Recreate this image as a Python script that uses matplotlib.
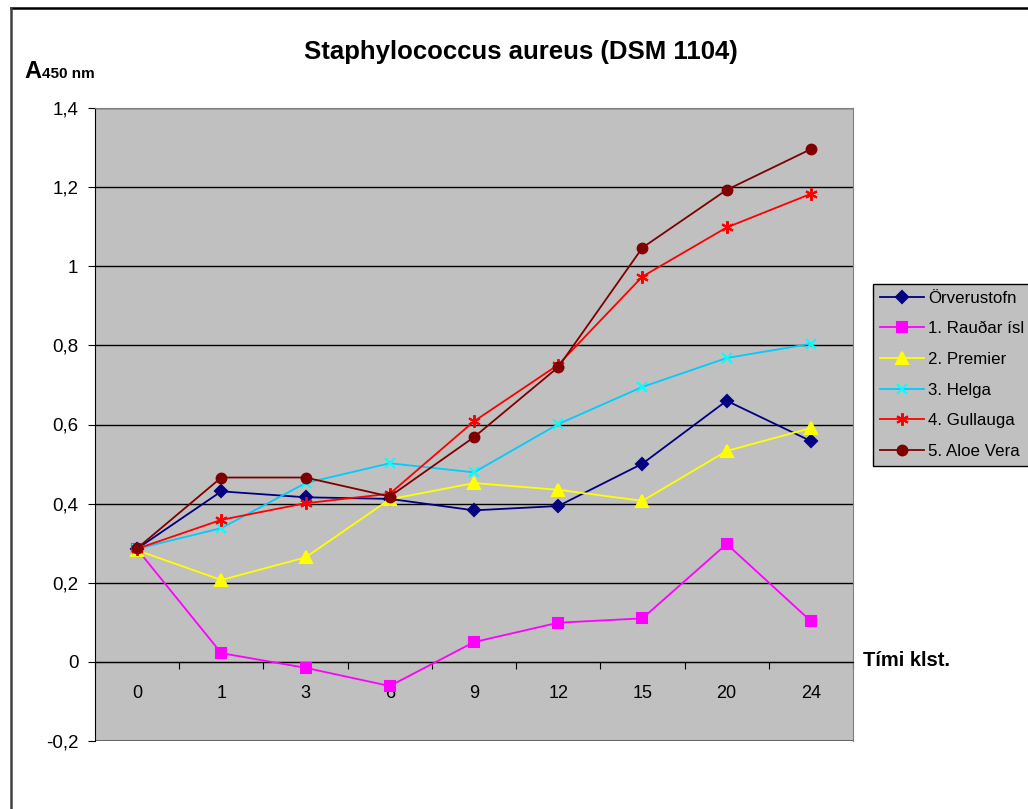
import numpy as np
import matplotlib
matplotlib.use('Agg')
from matplotlib import pyplot as plt
from matplotlib.lines import Line2D
from matplotlib.ticker import FuncFormatter, FixedLocator

plt.rcParams['font.family'] = ['Liberation Sans', 'DejaVu Sans']

# data
hours = ['0', '1', '3', '6', '9', '12', '15', '20', '24']
orverustofn = [0.286, 0.431, 0.416, 0.412, 0.383, 0.394, 0.501, 0.660, 0.558]
raudar_isl = [0.285, 0.022, -0.015, -0.061, 0.050, 0.099, 0.110, 0.298, 0.103]
premier = [0.282, 0.207, 0.264, 0.411, 0.452, 0.435, 0.407, 0.533, 0.591]
helga = [0.286, 0.338, 0.452, 0.502, 0.479, 0.601, 0.695, 0.768, 0.804]
gullauga = [0.286, 0.359, 0.401, 0.425, 0.608, 0.751, 0.974, 1.098, 1.183]
aloe_vera = [0.287, 0.466, 0.466, 0.418, 0.568, 0.745, 1.047, 1.193, 1.296]

series = [
    ('Örverustofn', orverustofn, '#000080', '#000080', 'D', 6.5),
    ('1. Rauðar ísl', raudar_isl, '#FF00FF', '#FF00FF', 's', 6.5),
    ('2. Premier', premier, '#FFFF00', '#FFFF00', '^', 8),
    ('3. Helga', helga, '#00CCFF', '#00FFFF', 'x', 7),
    ('4. Gullauga', gullauga, '#FF0000', '#FF0000', (6, 2, 0), 9),
    ('5. Aloe Vera', aloe_vera, '#800000', '#800000', 'o', 7),
]

W, H = 1028, 809
fig = plt.figure(figsize=(W / 100, H / 100), dpi=100)
left, right, top, bottom = 95, 853, 108, 741
ax = fig.add_axes([left / W, 1 - bottom / H, (right - left) / W, (bottom - top) / H])
ax.set_facecolor('#C0C0C0')

x = np.arange(len(hours))
for name, vals, lc, mc, mk, ms in series:
    ax.plot(x, vals, color=lc, lw=1.3, marker=mk, markersize=ms,
            markerfacecolor=mc, markeredgecolor=mc, markeredgewidth=1.5,
            label=name, zorder=3)

ax.set_xlim(-0.5, len(hours) - 0.5)
ax.set_ylim(-0.2, 1.4)
ax.yaxis.set_major_locator(FixedLocator(np.round(np.arange(-0.2, 1.41, 0.2), 1)))
ax.yaxis.set_major_formatter(FuncFormatter(lambda v, p: ('%g' % round(v, 1)).replace('.', ',')))
ax.grid(axis='y', color='black', lw=1)
ax.set_axisbelow(True)

# category axis crosses at zero
ax.spines['bottom'].set_position(('data', 0))
ax.spines['bottom'].set_color('black')
ax.spines['left'].set_color('black')
for s in ['top', 'right']:
    ax.spines[s].set_color('#808080')
ax.axhline(-0.2, color='#808080', lw=1.5, zorder=0)
ax.set_xticks(np.arange(-0.5, len(hours), 1.0))
ax.set_xticklabels([])
ax.set_xticks(x, minor=True)
ax.set_xticklabels(hours, minor=True)
ax.tick_params(axis='x', which='major', direction='out', length=5, color='black')
ax.tick_params(axis='x', which='minor', length=0, pad=17, labelsize=13)
ax.tick_params(axis='y', direction='out', length=5, pad=7, labelsize=13.5)

fig.text(521 / W, 1 - 52 / H, 'Staphylococcus aureus (DSM 1104)', ha='center', va='center',
         fontsize=18.5, fontweight='bold')
fig.text(24 / W, 1 - 78 / H, 'A', ha='left', va='baseline', fontsize=17, fontweight='bold')
fig.text(42 / W, 1 - 78 / H, '450 nm', ha='left', va='baseline', fontsize=11, fontweight='bold')
fig.text(863 / W, 1 - 660 / H, 'Tími klst.', ha='left', va='center', fontsize=14.5, fontweight='bold')

leg = fig.legend(loc='upper left', bbox_to_anchor=(873 / W, 1 - 284 / H), fontsize=12.2,
                 frameon=True, fancybox=False, facecolor='#C0C0C0', edgecolor='black',
                 framealpha=1, handlelength=2.6, handletextpad=0.25, labelspacing=0.92,
                 borderpad=0.4, borderaxespad=0)
leg.get_frame().set_linewidth(1)

# outer chart border (top and left visible)
fig.add_artist(Line2D([11 / W, 1], [1 - 8 / H, 1 - 8 / H], color='black', lw=1.8))
fig.add_artist(Line2D([11 / W, 11 / W], [1 - 8 / H, 0], color='#404040', lw=1.8))

fig.savefig('out.png', dpi=100)
